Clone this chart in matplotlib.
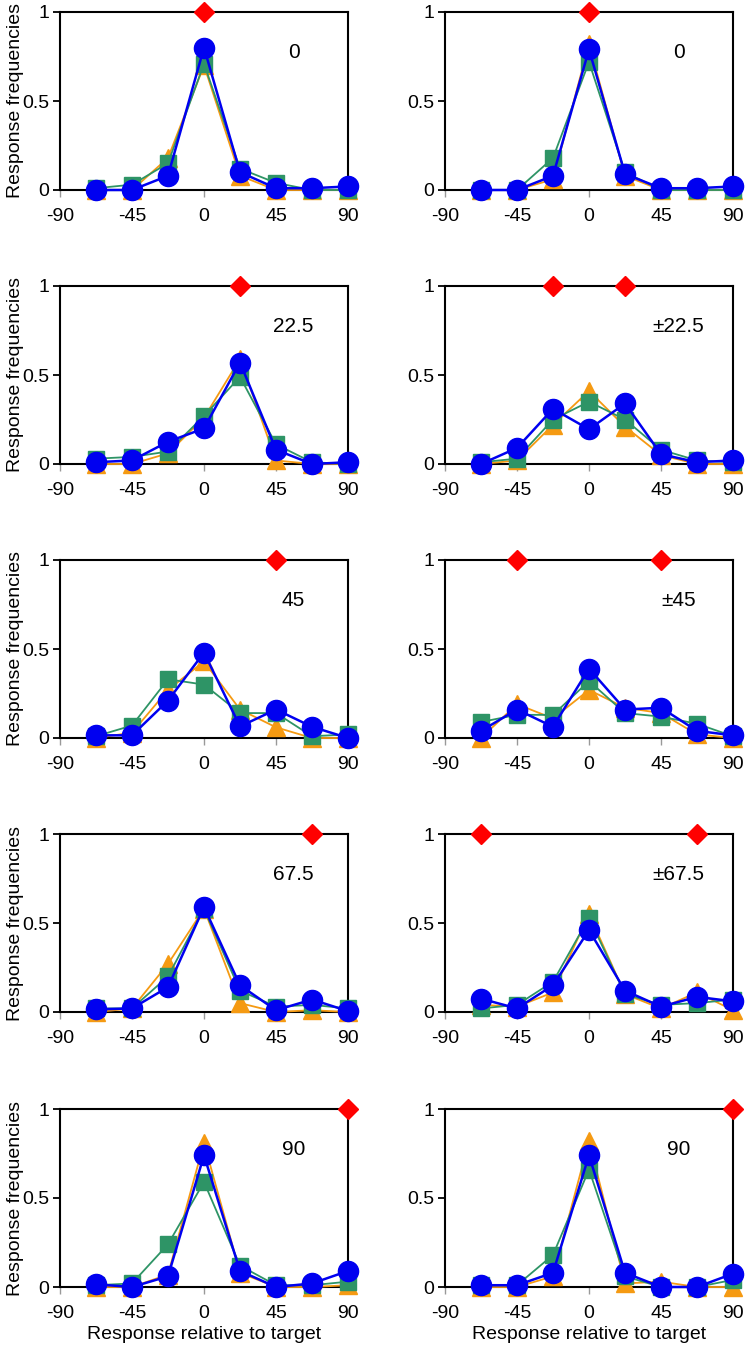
import numpy as np
import matplotlib.pyplot as plt

plt.rcParams['font.family'] = ['Liberation Sans', 'DejaVu Sans']

# response offsets (deg) where frequencies were measured
x = [-67.5, -45, -22.5, 0, 22.5, 45, 67.5, 90]

labels = ["0", "0", "22.5", "\u00b122.5", "45", "\u00b145",
          "67.5", "\u00b167.5", "90", "90"]
distractors = [[0], [0], [22.5], [-22.5, 22.5], [45], [-45, 45],
               [67.5], [-67.5, 67.5], [90], [90]]

orange = [
    [0, 0, 0.18, 0.70, 0.08, 0, 0, 0],
    [0, 0, 0.06, 0.82, 0.08, 0, 0, 0],
    [0, 0, 0.06, 0.26, 0.59, 0.02, 0, 0],
    [0, 0.02, 0.22, 0.41, 0.21, 0.05, 0, 0],
    [0, 0.03, 0.27, 0.43, 0.16, 0.06, 0, 0],
    [0, 0.19, 0.11, 0.27, 0.17, 0.14, 0.02, 0],
    [0, 0.02, 0.27, 0.58, 0.05, 0, 0.01, 0],
    [0.04, 0.03, 0.11, 0.55, 0.10, 0.02, 0.11, 0.01],
    [0, 0, 0.07, 0.81, 0.08, 0, 0, 0.01],
    [0, 0, 0.06, 0.82, 0.02, 0.03, 0, 0],
]
green = [
    [0.01, 0.03, 0.15, 0.71, 0.12, 0.04, 0, 0],
    [0, 0, 0.18, 0.72, 0.10, 0, 0, 0],
    [0.03, 0.04, 0.07, 0.27, 0.49, 0.11, 0.01, 0],
    [0.01, 0.03, 0.25, 0.35, 0.25, 0.08, 0.02, 0.01],
    [0.01, 0.07, 0.33, 0.30, 0.14, 0.14, 0.01, 0.02],
    [0.09, 0.13, 0.13, 0.32, 0.14, 0.12, 0.08, 0.01],
    [0.02, 0.02, 0.20, 0.58, 0.12, 0.03, 0.04, 0.02],
    [0.02, 0.04, 0.17, 0.53, 0.10, 0.04, 0.05, 0.07],
    [0.01, 0.02, 0.24, 0.59, 0.12, 0.01, 0.01, 0.03],
    [0.01, 0.01, 0.18, 0.66, 0.06, 0, 0, 0.04],
]
blue = [
    [0, 0, 0.08, 0.80, 0.10, 0.01, 0.01, 0.02],
    [0, 0, 0.08, 0.79, 0.09, 0.01, 0.01, 0.02],
    [0.01, 0.02, 0.125, 0.20, 0.57, 0.08, 0, 0.01],
    [0, 0.09, 0.31, 0.195, 0.34, 0.055, 0.01, 0.02],
    [0.015, 0.015, 0.21, 0.48, 0.065, 0.16, 0.063, 0],
    [0.04, 0.16, 0.063, 0.39, 0.16, 0.17, 0.04, 0.015],
    [0.015, 0.02, 0.14, 0.59, 0.15, 0.01, 0.07, 0.005],
    [0.075, 0.02, 0.15, 0.46, 0.12, 0.03, 0.085, 0.06],
    [0.015, 0, 0.06, 0.74, 0.09, 0, 0.02, 0.09],
    [0.01, 0.01, 0.08, 0.74, 0.08, 0, 0, 0.075],
]

W, H = 747, 1348
fig = plt.figure(figsize=(W / 100, H / 100), dpi=100)

lefts = [60, 445]
tops = [12, 286, 560, 834, 1109]
aw, ah = 288, 178

for i in range(10):
    r, c = divmod(i, 2)
    ax = fig.add_axes([lefts[c] / W, 1 - (tops[r] + ah) / H, aw / W, ah / H])
    ax.plot(x, orange[i], color='#F59A12', lw=1.3, marker='^', ms=13,
            clip_on=False, zorder=3)
    ax.plot(x, green[i], color='#2E9466', lw=1.3, marker='s', ms=12,
            clip_on=False, zorder=4)
    ax.plot(x, blue[i], color='#0000F0', lw=1.8, marker='o', ms=14.5,
            clip_on=False, zorder=5)
    ax.plot(distractors[i], [1] * len(distractors[i]), ls='none', marker='D',
            color='#FF0000', ms=10, clip_on=False, zorder=6)
    ax.text(56, 0.77, labels[i], ha='center', va='center', fontsize=15)

    ax.set_xlim(-90, 90)
    ax.set_ylim(0, 1)
    ax.set_xticks([-90, -45, 0, 45, 90])
    ax.set_xticklabels(['-90', '-45', '0', '45', '90'])
    ax.set_yticks([0, 0.5, 1])
    ax.set_yticklabels(['0', '0.5', '1'])
    for s in ax.spines.values():
        s.set_linewidth(1.5)
    ax.tick_params(axis='y', direction='out', length=5, width=1.3,
                   labelsize=14, pad=3)
    ax.tick_params(axis='x', direction='out', length=5, width=1,
                   color='0.6', labelsize=14, pad=8)
    if c == 0:
        ax.set_ylabel('Response frequencies', fontsize=14)
        ax.yaxis.set_label_coords(-0.125, 0.5)
    if r == 4:
        ax.set_xlabel('Response relative to target', fontsize=14, labelpad=3)

fig.savefig('out.png', dpi=100)
